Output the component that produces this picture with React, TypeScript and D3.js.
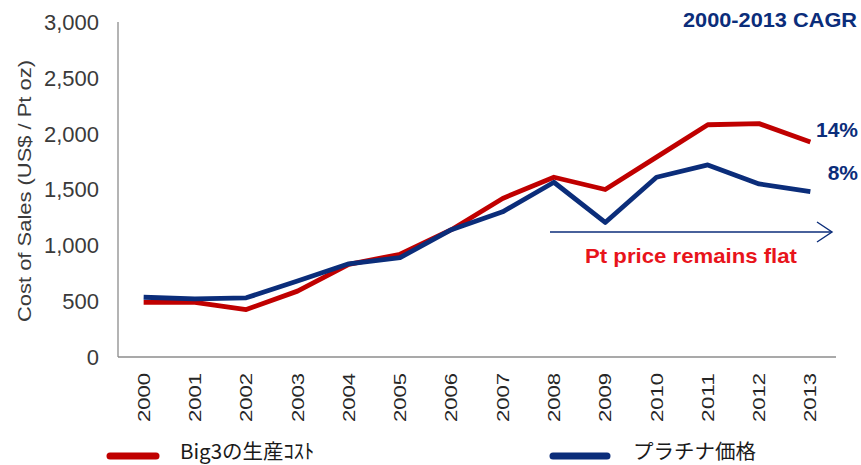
import React from "react";
import * as d3 from "d3";

const years = ["2000","2001","2002","2003","2004","2005","2006","2007","2008","2009","2010","2011","2012","2013"];
const big3Cost = [490, 490, 425, 590, 830, 920, 1140, 1420, 1610, 1500, 1790, 2080, 2090, 1925];
const ptPrice = [535, 520, 530, 680, 835, 890, 1140, 1300, 1565, 1205, 1610, 1720, 1550, 1480];
const yTicks = [0, 500, 1000, 1500, 2000, 2500, 3000];
const seriesNames = ["Big3の生産ｺｽﾄ", "プラチナ価格"];
const cagrLabels = ["14%", "8%"];

const RED = "#C00000";
const BLUE = "#0B2D7A";
const FONT = "'Liberation Sans', Arial, sans-serif";
const JP = "'Noto Sans CJK JP', sans-serif";

export default function App() {
  const W = 861, H = 465;
  const x = d3.scaleBand<string>().domain(years).range([118, 836]);
  const y = d3.scaleLinear().domain([0, 3000]).range([357, 22]);
  const cx = (d: string) => (x(d) as number) + x.bandwidth() / 2;
  const line = d3.line<number>().x((_, i) => cx(years[i])).y((v) => y(v));
  const series = [
    { name: seriesNames[0], values: big3Cost, color: RED },
    { name: seriesNames[1], values: ptPrice, color: BLUE },
  ];
  const arrowY = 232;
  const arrowX0 = 550;
  const arrowX1 = 832;

  return (
    <svg width={W} height={H} style={{ position: "absolute", left: 0, top: 0, background: "#fff" }}>
      {/* axes */}
      <line x1={118} x2={118} y1={22} y2={357} stroke="#8c8c8c" strokeWidth={1.3} />
      <line x1={118} x2={836} y1={357} y2={357} stroke="#8c8c8c" strokeWidth={1.3} />
      {yTicks.map((t) => (
        <text key={t} x={99} y={y(t)} dy="0.36em" textAnchor="end" fontFamily={FONT} fontSize={22} fill="#3a3a3a">
          {d3.format(",")(t)}
        </text>
      ))}
      {years.map((yr) => (
        <text key={yr} transform={`translate(${cx(yr) + 6},${373}) rotate(-90)`} textAnchor="start" x={-49}
          textLength={49} lengthAdjust="spacingAndGlyphs" fontFamily={FONT} fontSize={17} fill="#262626">
          {yr}
        </text>
      ))}
      <text transform={`translate(31,191) rotate(-90)`} x={-131} textLength={262} lengthAdjust="spacingAndGlyphs"
        fontFamily={FONT} fontSize={18} fill="#3a3a3a">
        Cost of Sales (US$ / Pt oz)
      </text>

      {/* series */}
      {series.map((s) => (
        <path key={s.name} d={line(s.values) as string} fill="none" stroke={s.color} strokeWidth={4.8} strokeLinejoin="round" strokeLinecap="butt" />
      ))}

      {/* annotations */}
      <text x={857} y={27} textAnchor="end" fontFamily={FONT} fontWeight="bold" fontSize={19.5}
        textLength={174} lengthAdjust="spacingAndGlyphs" fill={BLUE}>
        2000-2013 CAGR
      </text>
      <text x={858} y={137} textAnchor="end" fontFamily={FONT} fontWeight="bold" fontSize={21} fill={BLUE}>
        {cagrLabels[0]}
      </text>
      <text x={858} y={180} textAnchor="end" fontFamily={FONT} fontWeight="bold" fontSize={21} fill={BLUE}>
        {cagrLabels[1]}
      </text>
      <line x1={arrowX0} x2={arrowX1} y1={arrowY} y2={arrowY} stroke={BLUE} strokeWidth={1.4} />
      <polyline points={`${arrowX1 - 15},${arrowY - 10} ${arrowX1},${arrowY} ${arrowX1 - 15},${arrowY + 10}`} fill="none" stroke={BLUE} strokeWidth={1.4} />
      <text x={585} y={263} fontFamily={FONT} fontWeight="bold" fontSize={21}
        textLength={212} lengthAdjust="spacingAndGlyphs" fill="#E8141B">
        Pt price remains flat
      </text>

      {/* legend */}
      <line x1={110} x2={156} y1={456} y2={456} stroke={RED} strokeWidth={7} strokeLinecap="round" />
      <text x={180} y={459} fontFamily={JP} fontSize={20.5} fill="#1a1a1a">
        {seriesNames[0]}
      </text>
      <line x1={553} x2={607} y1={456} y2={456} stroke={BLUE} strokeWidth={7} strokeLinecap="round" />
      <text x={633} y={459} fontFamily={JP} fontSize={20.5} fill="#1a1a1a">
        {seriesNames[1]}
      </text>
    </svg>
  );
}
